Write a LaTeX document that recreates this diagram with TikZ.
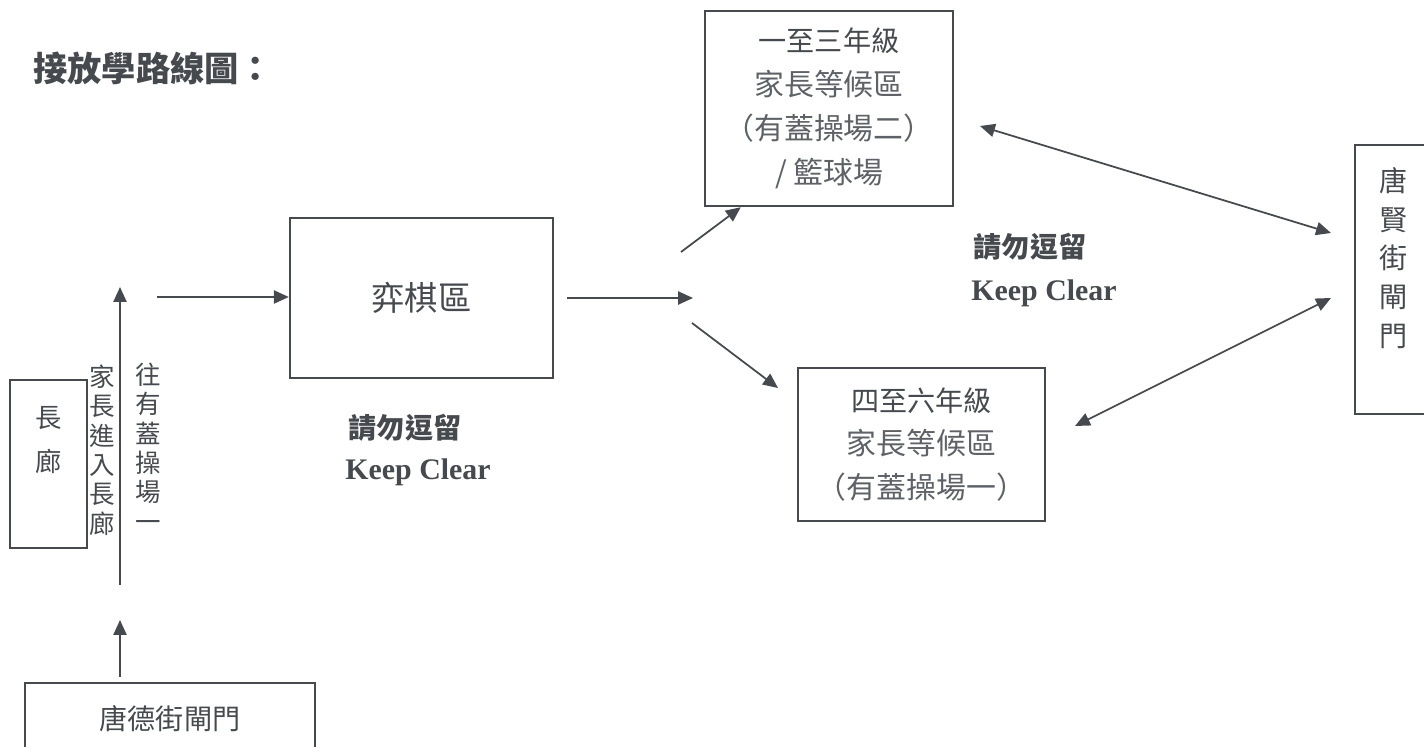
\documentclass[tikz,border=0pt]{standalone}
\usepackage{fontspec}
\newfontfamily\cjk{Noto Sans CJK TC}
\newfontfamily\en{Liberation Serif}
\usetikzlibrary{arrows.meta}
\definecolor{ink}{HTML}{46494E}
\definecolor{pale}{HTML}{5E6166}
\tikzset{area/.style={rectangle,draw=ink,line width=1.4pt,inner sep=0pt,
text=pale,align=center,font=\cjk\fontsize{17}{25}\selectfont},
txt/.style={text=ink,inner sep=0pt,align=center},
vert/.style={txt,font=\cjk\fontsize{14.5}{16.7}\selectfont},
warn/.style={txt,font=\cjk\bfseries\fontsize{16}{16}\selectfont},
clear/.style={txt,font=\en\bfseries\fontsize{17}{17}\selectfont},
route/.style={draw=ink,line width=1pt},
>={Triangle[length=8.5pt,width=7.5pt]}}
\begin{document}
\begin{tikzpicture}[x=0.02cm,y=-0.02cm]
  \useasboundingbox (0,0) rectangle (1424,747);
  \clip (0,0) rectangle (1424,747);
  \node (title) [txt,anchor=west,font=\cjk\bfseries\fontsize{19.5}{19.5}\selectfont] at (33,68) {接放學路線圖：};
  \node (hall) [area,minimum width=1.54cm,minimum height=3.36cm] at (48.5,464) {};
  \node (hallt) [txt,font=\cjk\fontsize{15}{25.5}\selectfont] at (48.5,440) {長\\廊};
  \node (enter) [vert] at (102,450) {家\\長\\進\\入\\長\\廊};
  \node (towards) [vert] at (148,447) {往\\有\\蓋\\操\\場\\一};
  \node (tdgate) [area,minimum width=5.8cm,minimum height=1.44cm,text=ink,font=\cjk\fontsize{16}{16}\selectfont] at (170,719) {唐德街閘門};
  \node (game) [area,minimum width=5.26cm,minimum height=3.2cm,text=ink,font=\cjk\fontsize{19}{19}\selectfont] at (421.5,298) {弈棋區};
  \node (grade13) [area,minimum width=4.96cm,minimum height=3.9cm] at (829,108.5)
    {{\color{ink}\fontsize{16}{25}\selectfont 一至三年級}\\家長等候區\\（有蓋操場二）\\/ 籃球場};
  \node (grade46) [area,minimum width=4.94cm,minimum height=3.06cm] at (921.5,444.5)
    {{\color{ink}\fontsize{16}{25}\selectfont 四至六年級}\\家長等候區\\（有蓋操場一）};
  \node (txgate) [area,minimum width=1.56cm,minimum height=5.38cm] at (1394,279.5) {};
  \node (txgatet) [txt,font=\cjk\fontsize{16}{22}\selectfont] at (1394,258) {唐\\賢\\街\\閘\\門};
  \node (warn1) [warn] at (405,428) {請勿逗留};
  \node (clear1) [clear] at (418,472) {Keep Clear};
  \node (warn2) [warn] at (1030,247) {請勿逗留};
  \node (clear2) [clear] at (1044,293) {Keep Clear};
  \coordinate (up0) at (120,620);
  \coordinate (up1) at (120,585);
  \coordinate (up2) at (120,287);
  \coordinate (h1) at (157,297);
  \coordinate (split) at (693,298);
  \coordinate (fork1) at (681,252);
  \coordinate (fork2) at (692,323);
  \coordinate (in46) at (778,388);
  \coordinate (a1) at (980,126);
  \coordinate (b1) at (1331,233);
  \coordinate (b2) at (1331,298);
  \coordinate (a2) at (1075,426);
  \draw [route,->,shorten <=0.1cm] ([xshift=-1cm]tdgate.north) -- (up0);
  \draw [route,->] (up1) -- (up2);
  \draw [route,->] (h1) -- (game.west |- h1);
  \draw [route,->,shorten <=0.26cm] (game.east) -- (split);
  \draw [route,->] (fork1) -- ([xshift=0.74cm]grade13.south west);
  \draw [route,->] (fork2) -- (in46);
  \draw [route,<->] (a1) -- (b1);
  \draw [route,<->] (a2) -- (b2);
\end{tikzpicture}
\end{document}
